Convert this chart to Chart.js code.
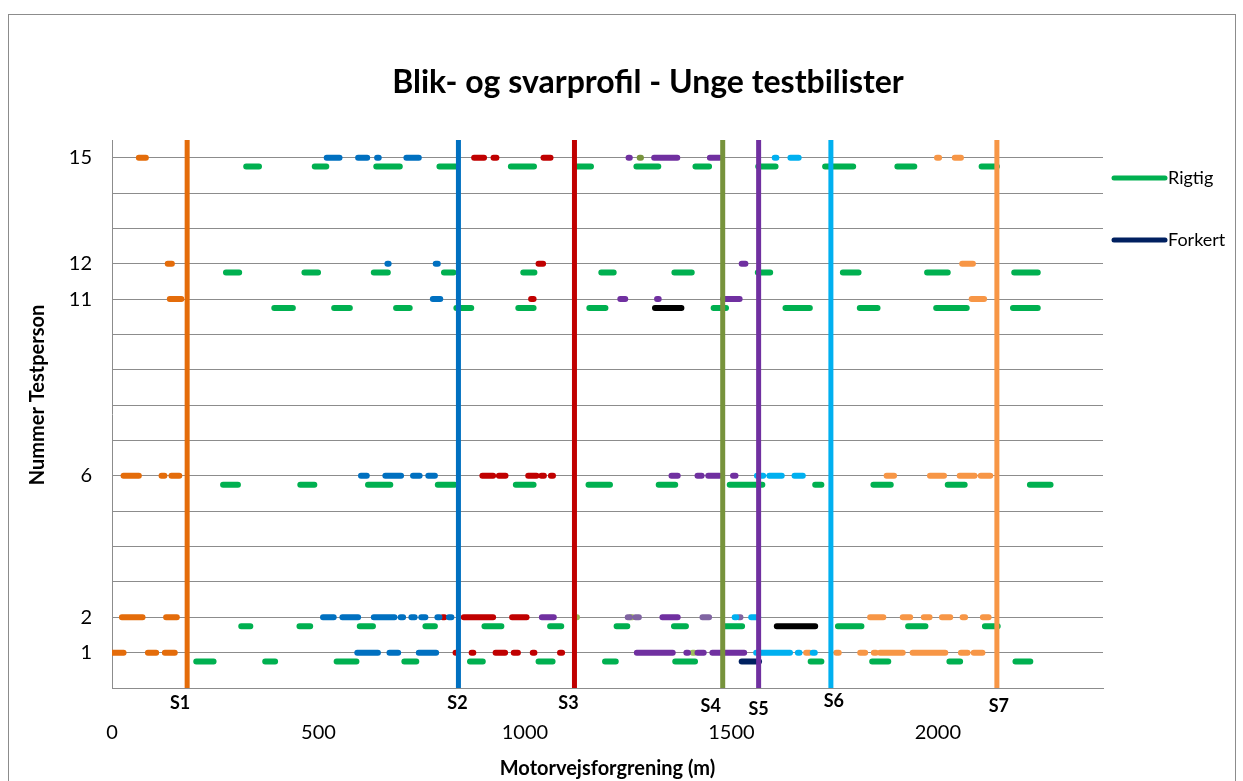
<!DOCTYPE html>
<html>
<head>
<meta charset="utf-8">
<title>Blik- og svarprofil - Unge testbilister</title>
<script src="https://cdn.jsdelivr.net/npm/chart.js@4"></script>
<style>
  html, body { margin: 0; padding: 0; background: #fff; }
  #wrap { position: relative; width: 1243px; height: 781px; }
</style>
</head>
<body>
<div id="wrap"><canvas id="chart"></canvas></div>
<script>
// Sign positions along the road (m)
const signNames = ['S1', 'S2', 'S3', 'S4', 'S5', 'S6', 'S7'];
const signPos = [182, 839, 1120, 1479, 1566, 1741, 2143];
const signColors = ['#E46C0A', '#0070C0', '#C00000', '#77933C', '#7030A0', '#00B0F0', '#F79646'];

// Axis ticks
const xTickValues = [0, 500, 1000, 1500, 2000];
const personRows = [1, 2, 3, 4, 5, 6, 7, 8, 9, 10, 11, 12, 13, 14, 15];
const personLabels = [1, 2, 6, 11, 12, 15];

// Glance segments per sign: [person, from m, to m]
const glanceS1 = [
  [15, 65, 82],
  [12, 135, 145],
  [11, 140, 168],
  [6, 28, 65], [6, 120, 127], [6, 144, 163],
  [2, 24, 74], [2, 131, 157],
  [1, 0, 28], [1, 87, 107], [1, 128, 152]
];
const glanceS2 = [
  [15, 520, 551], [15, 596, 618], [15, 642, 646], [15, 713, 743],
  [12, 667, 670], [12, 784, 789],
  [11, 777, 795],
  [6, 603, 617], [6, 662, 700], [6, 729, 745], [6, 766, 782],
  [2, 511, 537], [2, 558, 596], [2, 634, 684], [2, 699, 705], [2, 725, 733], [2, 749, 759], [2, 788, 793], [2, 816, 822],
  [1, 594, 644], [1, 672, 693], [1, 743, 785]
];
const glanceS3 = [
  [15, 877, 901], [15, 924, 931], [15, 1045, 1062],
  [12, 1033, 1044],
  [11, 1015, 1021],
  [6, 897, 923], [6, 937, 953], [6, 1008, 1028], [6, 1040, 1046], [6, 1063, 1068],
  [2, 801, 805], [2, 852, 923], [2, 969, 1004],
  [1, 832, 836], [1, 871, 875], [1, 929, 952], [1, 973, 983], [1, 1019, 1023], [1, 1085, 1090]
];
const glanceS4 = [
  [15, 1278, 1281]
];
const glanceS5 = [
  [15, 1251, 1254], [15, 1313, 1369], [15, 1448, 1471],
  [12, 1525, 1534],
  [11, 1231, 1243], [11, 1320, 1324], [11, 1480, 1520],
  [6, 1355, 1370], [6, 1418, 1428], [6, 1444, 1471], [6, 1504, 1510],
  [2, 1041, 1070], [2, 1333, 1370],
  [1, 1271, 1358], [1, 1391, 1395], [1, 1418, 1433], [1, 1454, 1531]
];
const glanceS6 = [
  [15, 1605, 1609], [15, 1643, 1663],
  [6, 1562, 1577], [6, 1592, 1622], [6, 1653, 1673],
  [2, 1508, 1512], [2, 1548, 1565],
  [1, 1560, 1642], [1, 1661, 1665], [1, 1697, 1702]
];
const glanceS7 = [
  [15, 1998, 2003], [15, 2041, 2056],
  [12, 2059, 2085],
  [11, 2082, 2112],
  [6, 1876, 1894], [6, 1981, 2015], [6, 2053, 2089], [6, 2104, 2127],
  [2, 1836, 1868], [2, 1915, 1933], [2, 1966, 1980], [2, 2010, 2030], [2, 2060, 2066], [2, 2109, 2123],
  [1, 1681, 1689], [1, 1754, 1760], [1, 1812, 1824], [1, 1845, 1850], [1, 1860, 1915], [1, 1939, 2018], [1, 2056, 2072], [1, 2087, 2108]
];
const glanceOtherA = [
  [2, 1249, 1254], [2, 1268, 1276], [2, 1430, 1446], [2, 1518, 1522]
];
const glanceOtherB = [
  [2, 1121, 1126], [2, 1256, 1260],
  [1, 1406, 1410]
];

// Answers: [person, from m, to m]
const rigtig = [
  [15, 325, 356], [15, 491, 519], [15, 640, 697], [15, 793, 832], [15, 966, 1022], [15, 1124, 1160],
  [15, 1270, 1323], [15, 1413, 1446], [15, 1565, 1607], [15, 1727, 1795], [15, 1902, 1943], [15, 2106, 2143],
  [12, 276, 308], [12, 466, 499], [12, 634, 668], [12, 804, 827], [12, 996, 1023], [12, 1185, 1215],
  [12, 1362, 1404], [12, 1564, 1594], [12, 1770, 1808], [12, 1974, 2024], [12, 2185, 2242],
  [11, 393, 438], [11, 538, 576], [11, 688, 721], [11, 834, 870], [11, 984, 1021], [11, 1156, 1195],
  [11, 1457, 1487], [11, 1631, 1690], [11, 1811, 1854], [11, 1996, 2070], [11, 2182, 2242],
  [6, 269, 305], [6, 456, 490], [6, 620, 674], [6, 789, 830], [6, 978, 1021], [6, 1154, 1206],
  [6, 1324, 1364], [6, 1496, 1575], [6, 1703, 1718], [6, 1844, 1886], [6, 2024, 2065], [6, 2223, 2273],
  [2, 313, 335], [2, 454, 480], [2, 600, 632], [2, 759, 782], [2, 902, 943], [2, 1061, 1088],
  [2, 1222, 1248], [2, 1361, 1390], [2, 1484, 1526], [2, 1758, 1815], [2, 1928, 1970], [2, 2114, 2145],
  [1, 204, 246], [1, 371, 395], [1, 544, 592], [1, 708, 737], [1, 867, 898], [1, 1033, 1067],
  [1, 1194, 1220], [1, 1364, 1412], [1, 1692, 1718], [1, 1841, 1880], [1, 2028, 2054], [1, 2188, 2224]
];
const forkert = [
  [1, 1525, 1567]
];
const forkertOther = [
  [11, 1315, 1379],
  [2, 1610, 1703]
];

const answerOffset = -0.25;
const yMax = 15.5;

// Turn [person, from, to] rows into a broken polyline
function toSegments(rows, offset) {
  const pts = [];
  rows.forEach(r => {
    pts.push({ x: r[1], y: r[0] + offset });
    pts.push({ x: r[2], y: r[0] + offset });
    pts.push({ x: r[2], y: null });
  });
  return pts;
}

function segDataset(label, rows, color, offset) {
  return {
    label: label,
    data: toSegments(rows, offset || 0),
    showLine: true,
    spanGaps: false,
    borderColor: color,
    backgroundColor: color,
    borderWidth: 6,
    borderCapStyle: 'round',
    pointRadius: 0,
    pointHoverRadius: 0,
    order: 1
  };
}

const datasets = [];
signNames.forEach((name, i) => {
  datasets.push({
    label: name,
    data: [{ x: signPos[i], y: 0 }, { x: signPos[i], y: yMax }],
    showLine: true,
    borderColor: signColors[i],
    borderWidth: 5,
    borderCapStyle: 'butt',
    pointRadius: 0,
    order: 0
  });
});
datasets.push(segDataset('S1 blik', glanceS1, signColors[0]));
datasets.push(segDataset('S2 blik', glanceS2, signColors[1]));
datasets.push(segDataset('S3 blik', glanceS3, signColors[2]));
datasets.push(segDataset('S4 blik', glanceS4, signColors[3]));
datasets.push(segDataset('S5 blik', glanceS5, signColors[4]));
datasets.push(segDataset('S6 blik', glanceS6, signColors[5]));
datasets.push(segDataset('S7 blik', glanceS7, signColors[6]));
datasets.push(segDataset('Andet A', glanceOtherA, '#8064A2'));
datasets.push(segDataset('Andet B', glanceOtherB, '#9BBB59'));
datasets.push(segDataset('Rigtig', rigtig, '#00B050', answerOffset));
datasets.push(segDataset('Forkert', forkert, '#002060', answerOffset));
datasets.push(segDataset('Forkert (andet)', forkertOther, '#000000', answerOffset));

const legendItems = [
  { text: 'Rigtig', color: '#00B050' },
  { text: 'Forkert', color: '#002060' }
];

const chartTitle = 'Blik- og svarprofil - Unge testbilister';
const yTitle = 'Nummer Testperson';

// Sign labels sit just under the axis, nudged like in the original
const signLabelShift = [[-7, 15], [-1, 15], [-6, 15], [-12, 18], [0, 21], [3, 13], [2, 18]];

const decor = {
  id: 'decor',
  beforeDraw(chart) {
    const ctx = chart.ctx;
    ctx.save();
    ctx.fillStyle = '#fff';
    ctx.fillRect(0, 0, chart.width, chart.height);
    ctx.strokeStyle = '#8c8c8c';
    ctx.lineWidth = 1;
    ctx.strokeRect(8.5, 14.5, 1227, 800);
    ctx.restore();
  },
  afterDraw(chart) {
    const ctx = chart.ctx;
    const xs = chart.scales.x;
    const area = chart.chartArea;
    ctx.save();
    ctx.fillStyle = '#000';
    ctx.textAlign = 'center';
    ctx.textBaseline = 'middle';

    // chart title
    ctx.font = 'bold 32px Lato';
    ctx.fillText(chartTitle, 648, 83);

    // y axis title
    ctx.save();
    ctx.translate(38, 395);
    ctx.rotate(-Math.PI / 2);
    ctx.font = 'bold 20px Lato';
    ctx.fillText(yTitle, 0, 0);
    ctx.restore();

    ctx.font = 'bold 18px Lato';
    signNames.forEach((name, i) => {
      const px = xs.getPixelForValue(signPos[i]) + signLabelShift[i][0];
      ctx.fillText(name, px, area.bottom + signLabelShift[i][1]);
    });

    // legend
    ctx.font = '18px Lato';
    ctx.textAlign = 'left';
    legendItems.forEach((item, i) => {
      const y = 178 + i * 62;
      ctx.strokeStyle = item.color;
      ctx.lineWidth = 5;
      ctx.lineCap = 'round';
      ctx.beginPath();
      ctx.moveTo(area.right + 11, y);
      ctx.lineTo(area.right + 62, y);
      ctx.stroke();
      ctx.fillText(item.text, area.right + 65, y);
    });
    ctx.restore();
  }
};

new Chart(document.getElementById('chart'), {
  type: 'scatter',
  data: { datasets: datasets },
  plugins: [decor],
  options: {
    responsive: true,
    maintainAspectRatio: false,
    animation: false,
    layout: { padding: { left: 0, right: 140, top: 140, bottom: 0 } },
    plugins: {
      legend: { display: false },
      tooltip: { enabled: false },
      title: { display: false }
    },
    scales: {
      x: {
        type: 'linear',
        min: 0,
        max: 2400,
        afterFit: (scale) => { scale.height = 93; },
        afterBuildTicks: (scale) => { scale.ticks = xTickValues.map(v => ({ value: v })); },
        grid: { display: false, drawTicks: false },
        border: { display: true, color: '#8c8c8c', width: 1 },
        ticks: {
          color: '#000',
          font: { family: 'Lato', size: 20 },
          padding: 33,
          maxRotation: 0,
          callback: (v) => String(v)
        },
        title: {
          display: true,
          text: 'Motorvejsforgrening (m)',
          color: '#000',
          font: { family: 'Lato', size: 20, weight: 'bold' },
          padding: { top: 0, bottom: 0 }
        }
      },
      y: {
        type: 'linear',
        min: 0,
        max: yMax,
        afterFit: (scale) => { scale.width = 112; },
        afterBuildTicks: (scale) => { scale.ticks = personRows.map(v => ({ value: v })); },
        grid: { color: '#8c8c8c', lineWidth: 1, drawTicks: false },
        border: { display: true, color: '#8c8c8c', width: 1 },
        ticks: {
          color: '#000',
          font: { family: 'Lato', size: 20 },
          padding: 20,
          callback: (v) => personLabels.includes(v) ? String(v) : ''
        },
        title: { display: false }
      }
    }
  }
});
</script>
</body>
</html>
